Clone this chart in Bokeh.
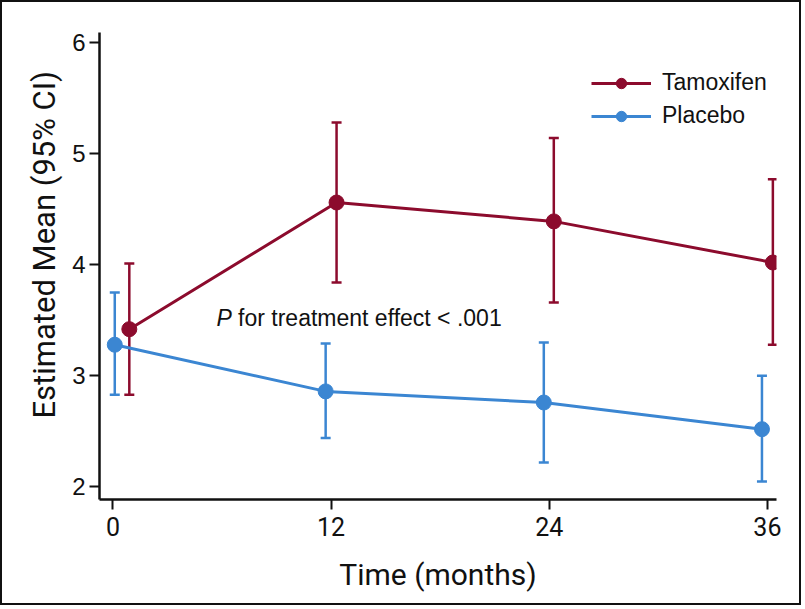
from bokeh.plotting import figure
from bokeh.models import (ColumnDataSource, Whisker, TeeHead, Legend, LegendItem,
                          FixedTicker, Range1d, Title)
from bokeh.core.properties import value
from bokeh.embed import file_html
from bokeh.resources import INLINE

# ---- data ----
x_ticks = [0, 12, 24, 36]
y_ticks = [2, 3, 4, 5, 6]

tam_time = [0.9, 12.3, 24.25, 36.3]
tam_mean = [3.42, 4.56, 4.39, 4.02]
tam_lower = [2.83, 3.84, 3.66, 3.28]
tam_upper = [4.01, 5.28, 5.14, 4.77]

pla_time = [0.1, 11.7, 23.7, 35.7]
pla_mean = [3.28, 2.86, 2.76, 2.52]
pla_lower = [2.83, 2.44, 2.22, 2.05]
pla_upper = [3.75, 3.29, 3.30, 3.00]

series_labels = ["Tamoxifen", "Placebo"]
x_title = "Time (months)"
y_title = "Estimated Mean (95% CI)"
annotation_p = "P"
annotation_text = "for treatment effect < .001"

RED = "#8C0B2D"
BLUE = "#3B86D2"
INK = "#111111"
SANS = "Liberation Sans"
COND = "Roboto"

p = figure(width=801, height=605, output_backend="svg", toolbar_location=None,
           x_range=Range1d(-0.74, 36.5), y_range=Range1d(1.887, 6.09),
           min_border_left=97, min_border_right=27, min_border_top=30,
           min_border_bottom=108)
p.styles = {"border": "2px solid #111111"}
p.xgrid.visible = False
p.ygrid.visible = False
p.outline_line_color = None

for ax in (p.xaxis[0], p.yaxis[0]):
    ax.axis_line_width = 2.5
    ax.axis_line_color = INK
    ax.major_tick_line_width = 2
    ax.major_tick_line_color = INK
    ax.major_tick_out = 10
    ax.major_tick_in = 0
    ax.minor_tick_out = 0
    ax.minor_tick_in = 0
    ax.major_label_text_color = INK
    ax.axis_label_text_font = COND
    ax.axis_label_text_font_style = "normal"
    ax.axis_label_text_color = INK

p.xaxis.ticker = FixedTicker(ticks=x_ticks)
p.yaxis.ticker = FixedTicker(ticks=y_ticks)
p.xaxis.major_label_text_font = COND
p.xaxis.major_label_text_font_size = "25px"
p.yaxis.major_label_text_font = SANS
p.yaxis.major_label_text_font_size = "24px"
p.xaxis.major_label_standoff = 7
p.yaxis.major_label_standoff = 4
p.xaxis.axis_label = x_title
p.xaxis.axis_label_text_font_size = "30px"
p.xaxis.axis_label_standoff = 18

# y title as a side title so it can be shifted along the axis like the original
p.add_layout(Title(text=y_title, align="left", offset=81, standoff=13,
                   text_font=COND, text_font_size="31px", text_font_style="normal",
                   text_color=INK), "left")

src_p = ColumnDataSource(dict(x=pla_time, y=pla_mean, lo=pla_lower, hi=pla_upper))
src_t = ColumnDataSource(dict(x=tam_time, y=tam_mean, lo=tam_lower, hi=tam_upper))

renderers = []
for src, col in ((src_p, BLUE), (src_t, RED)):
    w = Whisker(base="x", upper="hi", lower="lo", source=src, line_color=col,
                line_width=2.5,
                upper_head=TeeHead(size=10, line_color=col, line_width=2.5),
                lower_head=TeeHead(size=10, line_color=col, line_width=2.5))
    p.add_layout(w)
    ln = p.line("x", "y", source=src, line_color=col, line_width=3)
    sc = p.scatter("x", "y", source=src, size=15, fill_color=col, line_color=col)
    renderers.append((ln, sc))

items = [LegendItem(label=series_labels[0], renderers=list(renderers[1])),
         LegendItem(label=series_labels[1], renderers=list(renderers[0]))]
legend = Legend(items=items, location=(492, 370), glyph_width=60, glyph_height=26,
                label_standoff=11, spacing=6, padding=0, margin=0,
                label_height=26, border_line_color=None, background_fill_alpha=0,
                label_text_font=SANS, label_text_font_size="23px",
                label_text_color=INK)
p.add_layout(legend)

ann_x = 5.69
ann_y = 3.52
p.text(x=[ann_x], y=[ann_y], text=[annotation_p], text_font=value(SANS),
       text_font_size="23px", text_font_style="italic", text_baseline="middle",
       text_color=INK)
p.text(x=[ann_x], y=[ann_y], text=[annotation_text], text_font=value(SANS),
       text_font_size="23px", text_baseline="middle", x_offset=21.7,
       text_color=INK)

open("out.html", "w").write(file_html(p, INLINE))
